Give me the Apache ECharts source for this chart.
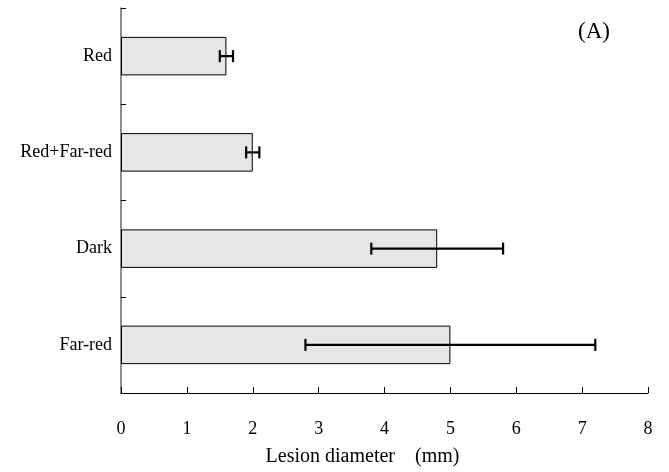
<!DOCTYPE html>
<html>
<head>
<meta charset="utf-8">
<script src="https://cdn.jsdelivr.net/npm/echarts@6/dist/echarts.min.js"></script>
<style>
  html, body { margin: 0; padding: 0; background: #fff; }
  #chart { width: 669px; height: 472px; }
</style>
</head>
<body>
<div id="chart"></div>
<script>
// 数据：处理条件、病斑直径均值及误差范围
const categories = ['Red', 'Red+Far-red', 'Dark', 'Far-red'];
const meanValues = [1.6, 2.0, 4.8, 5.0];
const errLow = [1.5, 1.9, 3.8, 2.8];
const errHigh = [1.7, 2.1, 5.8, 7.2];
const xTicks = [0, 1, 2, 3, 4, 5, 6, 7, 8];

const serif = '"Liberation Serif", "Times New Roman", serif';
const errData = categories.map((c, i) => [i, errLow[i], errHigh[i]]);

const chart = echarts.init(document.getElementById('chart'));
chart.setOption({
  animation: false,
  grid: { left: 121, right: 21, top: 8, bottom: 77 },
  title: {
    text: '(A)',
    right: 54,
    top: 15,
    textStyle: { fontFamily: serif, fontSize: 23, fontWeight: 'normal', color: '#000' }
  },
  xAxis: {
    type: 'value',
    min: xTicks[0],
    max: xTicks[xTicks.length - 1],
    interval: 1,
    name: 'Lesion diameter    (mm)',
    nameLocation: 'middle',
    nameGap: 54,
    nameTextStyle: { fontFamily: serif, fontSize: 20, color: '#000', padding: [0, 44, 0, 0] },
    axisLine: { show: true, lineStyle: { color: '#000', width: 1 } },
    axisTick: { show: true, inside: true, length: 6, lineStyle: { color: '#000' } },
    axisLabel: { margin: 27, fontFamily: serif, fontSize: 18, color: '#000' },
    splitLine: { show: false }
  },
  yAxis: {
    type: 'category',
    inverse: true,
    data: categories,
    axisLine: { show: true, lineStyle: { color: '#666', width: 1.5 } },
    axisTick: { show: true, inside: true, length: 5, lineStyle: { color: '#000' } },
    axisLabel: { margin: 9, fontFamily: serif, fontSize: 18, color: '#000' }
  },
  series: [
    {
      type: 'bar',
      data: meanValues,
      barWidth: '40%',
      itemStyle: { color: '#e6e6e6', borderColor: '#000', borderWidth: 1 }
    },
    {
      type: 'custom',
      data: errData,
      encode: { x: [1, 2], y: 0 },
      z: 10,
      renderItem: (params, api) => {
        const idx = api.value(0);
        const lo = api.coord([api.value(1), idx]);
        const hi = api.coord([api.value(2), idx]);
        const h = 6;
        const style = { stroke: '#000', lineWidth: 2.2 };
        return {
          type: 'group',
          children: [
            { type: 'line', shape: { x1: lo[0], y1: lo[1], x2: hi[0], y2: hi[1] }, style },
            { type: 'line', shape: { x1: lo[0], y1: lo[1] - h, x2: lo[0], y2: lo[1] + h }, style },
            { type: 'line', shape: { x1: hi[0], y1: hi[1] - h, x2: hi[0], y2: hi[1] + h }, style }
          ]
        };
      }
    }
  ]
});
</script>
</body>
</html>
